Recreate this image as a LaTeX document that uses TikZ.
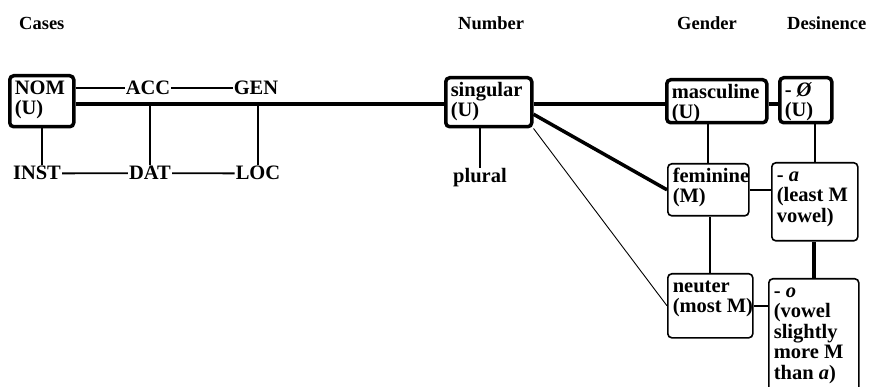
\documentclass[tikz,border=0pt]{standalone}
\usepackage{fontspec}
\setmainfont{Liberation Serif}
\usepackage{tikz}

\newcommand{\cell}[3]{\parbox[b][#2][t]{#1}{\raggedright\strut #3}}

\begin{document}
\begin{tikzpicture}[x=1pt, y=-1pt,
  every node/.style={font=\fontsize{20.5}{20.5}\selectfont\bfseries},
  box/.style={draw, rounded corners=4pt, anchor=north west, inner xsep=5pt, inner ysep=4pt, line width=1.6pt},
  heavy/.style={box, line width=3.5pt},
  lbl/.style={inner sep=1pt, anchor=base},
  ttl/.style={anchor=base west, inner sep=0pt, font=\fontsize{18.5}{20}\selectfont\bfseries},
  lnk/.style={line width=1.9pt},
  fat/.style={line width=3.5pt},
  fine/.style={line width=0.9pt}]
\useasboundingbox (0,0) rectangle (870,387);
\clip (0,0) rectangle (870,387);

\node[ttl] (hcase) at (19,30) {Cases};
\node[ttl] (hnum) at (458,30) {Number};
\node[ttl] (hgen) at (677,30) {Gender};
\node[ttl] (hdes) at (787,30) {Desinence};

\node[heavy] (nom) at (8,74) {\cell{54pt}{43pt}{NOM\\(U)}};
\node[lbl] (acc) at (148,95) {ACC};
\node[lbl] (gen) at (256,95) {GEN};
\node[lbl] (inst) at (37,180) {INST};
\node[lbl] (dat) at (150,180) {DAT};
\node[lbl] (loc) at (258,180) {LOC};

\node[heavy] (sing) at (444,76) {\cell{76pt}{41pt}{singular\\(U)}};
\node[lbl] (plur) at (480,183) {plural};

\node[heavy] (masc) at (665,78) {\cell{90pt}{35pt}{masculine\\(U)}};
\node[box] (fem) at (667,163) {\cell{71pt}{44pt}{\mbox{feminine}\\(M)}};
\node[box] (neut) at (667,273) {\cell{75pt}{56pt}{neuter\\\mbox{(most M)}}};

\node[heavy] (zero) at (778,76) {\cell{42pt}{37pt}{- \textit{Ø}\\(U)}};
\node[box] (desa) at (771,162) {\cell{76pt}{70pt}{- \textit{a}\\\mbox{(least M}\\vowel)}};
\node[box] (deso) at (768,278) {\cell{80pt}{112pt}{- \textit{o}\\(vowel\\slightly\\\mbox{more M}\\\mbox{than \textit{a})}}};

\coordinate (spine) at (0,104);

\draw[lnk] (nom.east |- acc.west) -- (acc.west);
\draw[lnk] (acc.east) -- (gen.west);
\draw[lnk] (inst.east) -- (dat.west);
\draw[lnk] (dat.east) -- (loc.west);
\draw[lnk] (nom.south) -- (nom.south |- inst.north);
\draw[lnk] (dat.north) -- (dat.north |- spine);
\draw[lnk] (loc.north) -- (loc.north |- spine);
\draw[fat] (nom.east |- spine) -- (sing.west |- spine);

\draw[lnk] (plur.north) -- (plur.north |- sing.south);
\draw[fat] (sing.east |- spine) -- (masc.west |- spine);
\draw[fat] ([yshift=-12pt]sing.east) -- (fem.west);
\draw[fine] (sing.south east) -- (neut.west);

\draw[fat] (masc.east |- spine) -- (zero.west |- spine);
\draw[lnk] (fem.north) -- (fem.north |- masc.south);
\draw[lnk] (neut.north) -- (neut.north |- fem.south);
\draw[lnk] (desa.north) -- (desa.north |- zero.south);
\draw[fat] (deso.north) -- (deso.north |- desa.south);
\draw[lnk] (fem.east) -- (fem.east -| desa.west);
\draw[lnk] (neut.east) -- (neut.east -| deso.west);
\end{tikzpicture}
\end{document}
